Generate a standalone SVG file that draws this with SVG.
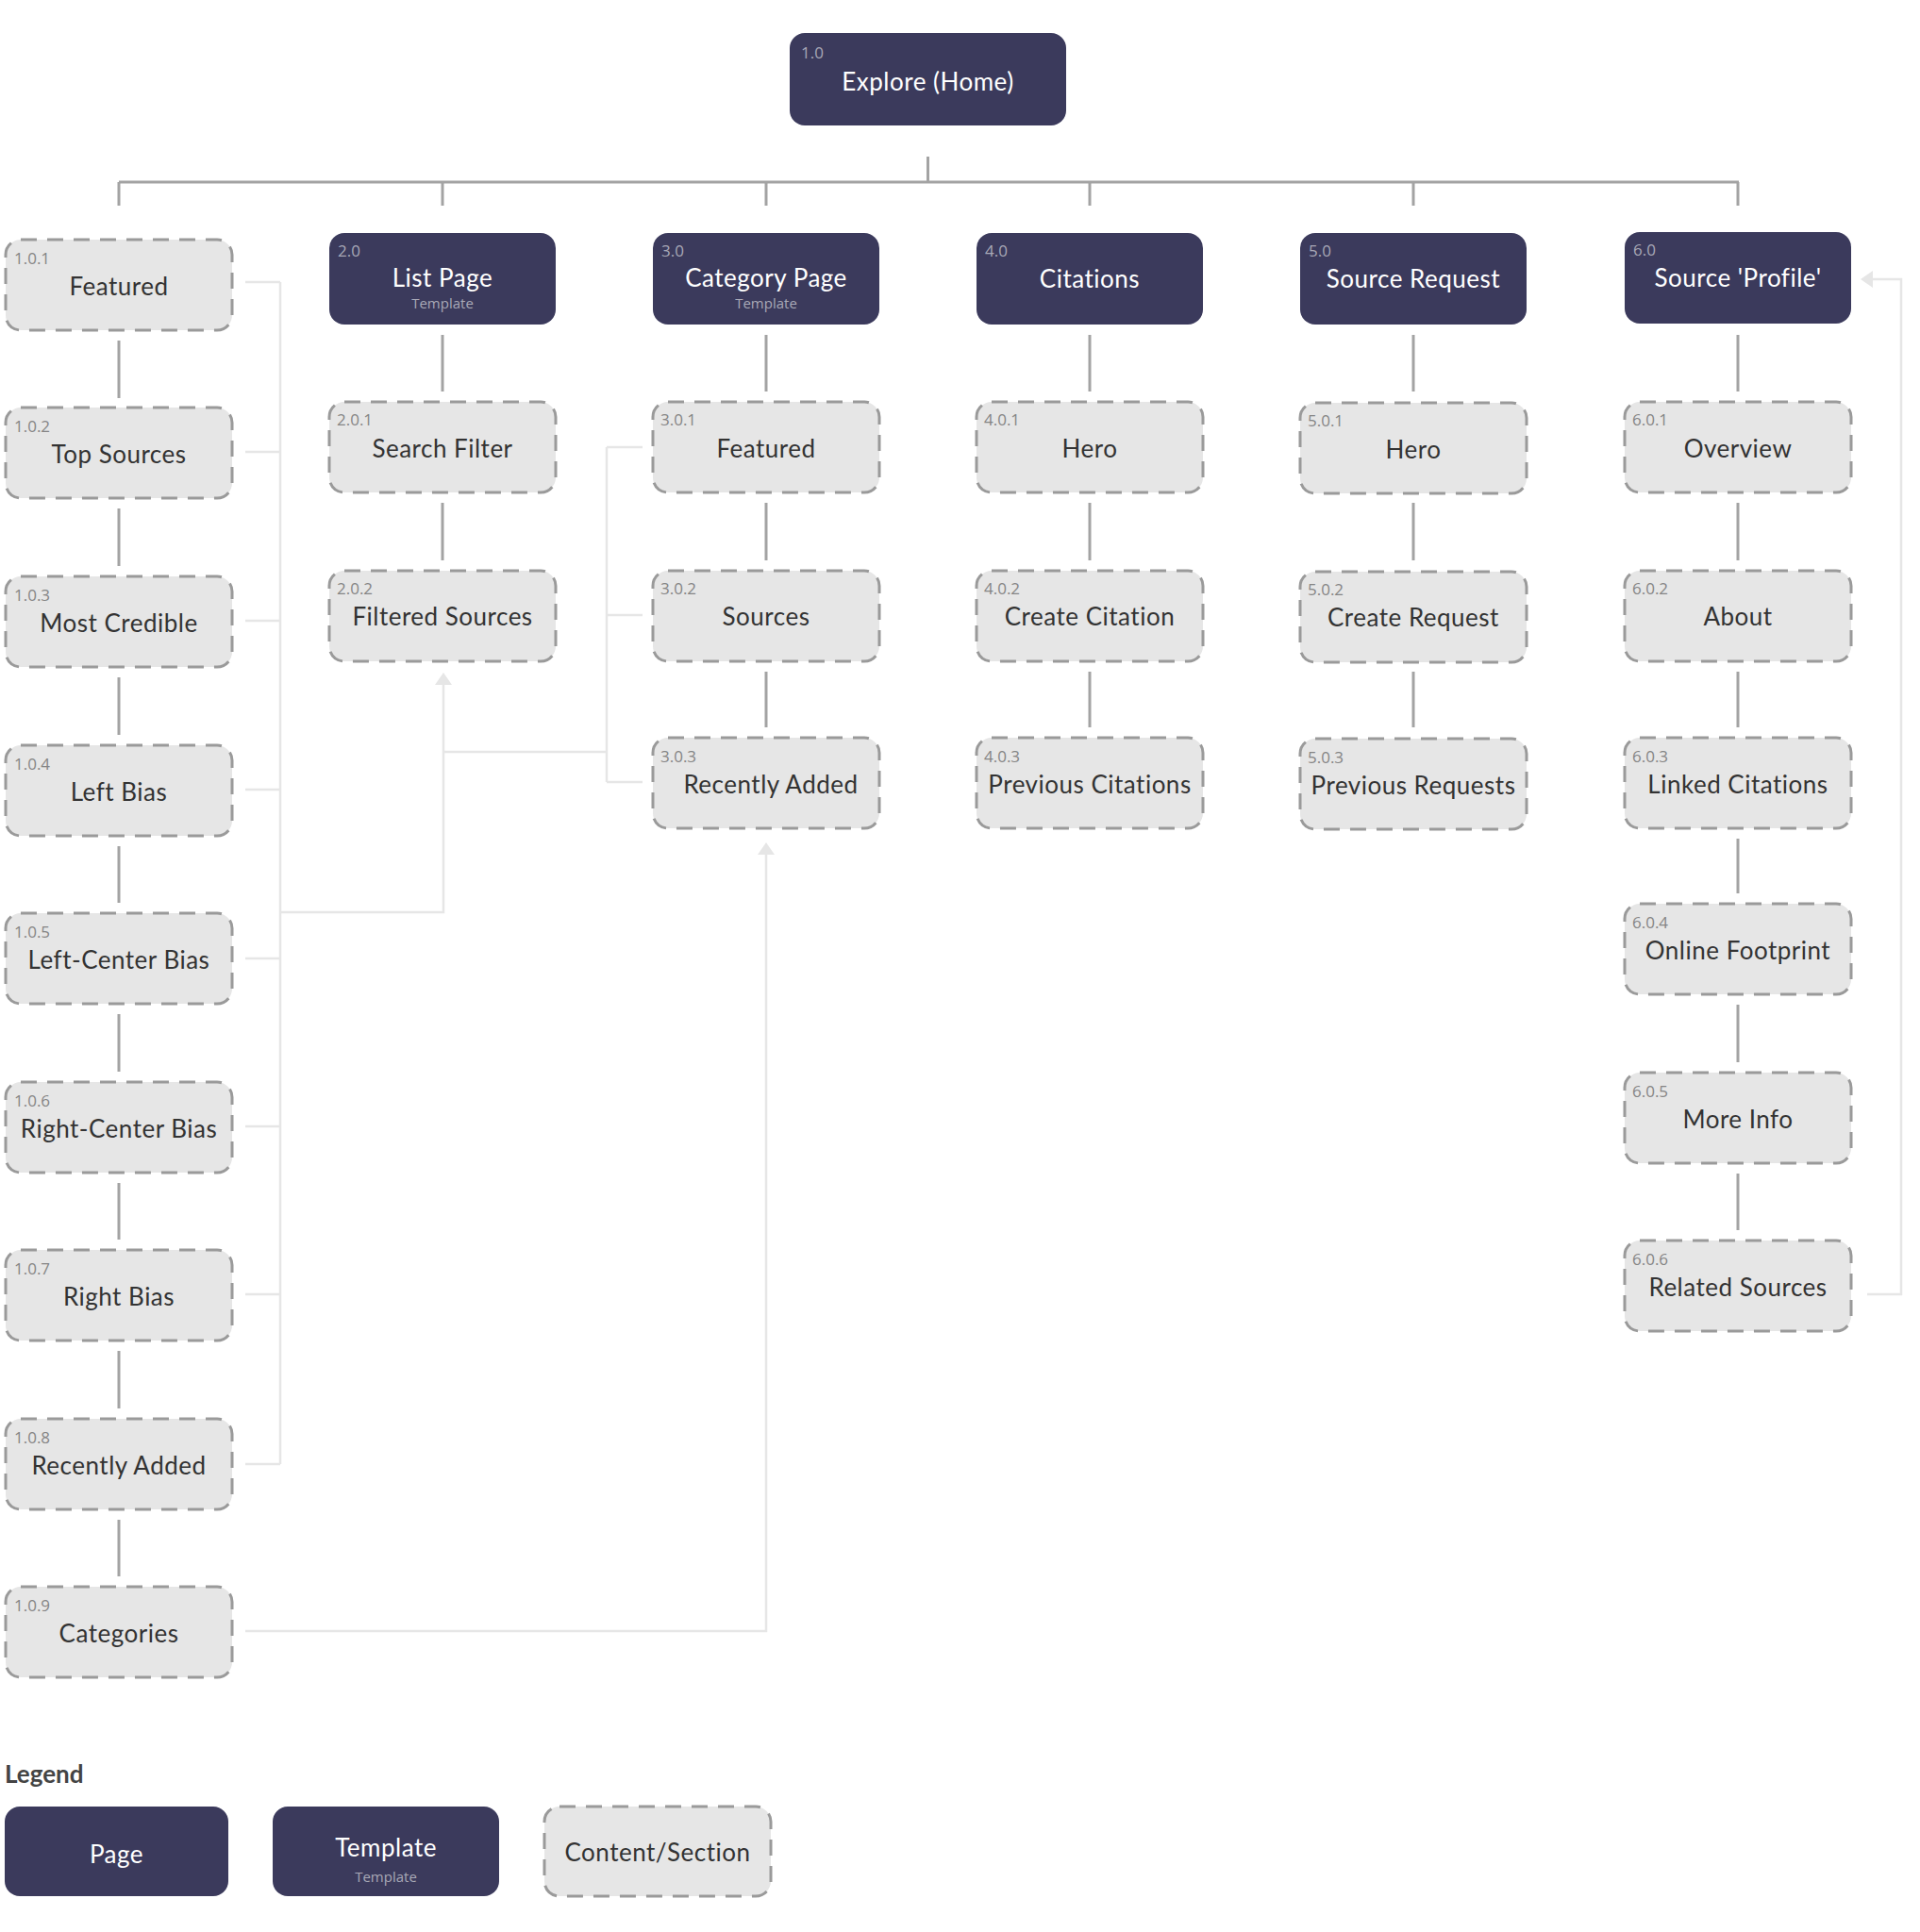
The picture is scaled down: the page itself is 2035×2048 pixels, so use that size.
<svg xmlns="http://www.w3.org/2000/svg" width="2035" height="2048" viewBox="0 0 2035 2048">
<style>
.pg{fill:#3b3a5c}
.ct{fill:#e6e6e6;stroke:#9a9a9a;stroke-width:3;stroke-dasharray:17 11}
.nd{fill:#a8a8b6;font-family:"Open Sans",sans-serif;font-size:17px}
.nl{fill:#858585;font-family:"Open Sans",sans-serif;font-size:17px}
.ld{fill:#ffffff;font-family:Lato,"Noto Sans",sans-serif;font-size:26px;letter-spacing:0.5px;text-anchor:middle}
.ll{fill:#333333;font-family:Lato,"Noto Sans",sans-serif;font-size:26px;letter-spacing:0.5px;text-anchor:middle}
.sb{fill:#a8a8b6;font-family:"Open Sans",sans-serif;font-size:15px;text-anchor:middle}
.cn{stroke:#a3a3a3;stroke-width:3;fill:none}
.lk{stroke:#e6e6e6;stroke-width:2.5;fill:none}
.ah{fill:#e6e6e6}
.lg{fill:#444;font-family:Lato,"Noto Sans",sans-serif;font-size:26px;font-weight:bold}
</style>
<rect width="2035" height="2048" fill="#ffffff"/>

<g id="connectors">
  <path class="cn" d="M983.5 166V193M126 193H1843M126 193V218M469 193V218M812 193V218M1155 193V218M1498 193V218M1842 193V218"/>
  <path class="cn" d="M126 361V422M126 539V600M126 718V779M126 897V957M126 1075V1136M126 1254V1314M126 1432V1493M126 1611V1671"/>
  <path class="cn" d="M469 355V415M469 533V594M812 355V415M812 533V594M812 712V771M1155 355V415M1155 533V594M1155 712V771M1498 355V415M1498 533V594M1498 712V771"/>
  <path class="cn" d="M1842 355V415M1842 533V594M1842 712V771M1842 889V947M1842 1065V1126M1842 1244V1304"/>
  <path class="lk" d="M260 299H297M260 479H297M260 658H297M260 837H297M260 1016H297M260 1194H297M260 1372H297M260 1552H297M297 299V1552M297 967H470V724"/>
  <polygon class="ah" points="470,713 461,726 479,726"/>
  <path class="lk" d="M681 474H643M681 652H643M681 829H643M643 474V829M643 797H470"/>
  <path class="lk" d="M260 1729H812V906"/>
  <polygon class="ah" points="812,893 803,906 821,906"/>
  <path class="lk" d="M1979 1372H2015V296H1984"/>
  <polygon class="ah" points="1972,296 1985,287 1985,305"/>
</g>

<g id="n-1-0">
  <rect class="pg" x="837" y="35" width="293" height="98" rx="16"/>
  <text class="nd" x="849" y="62">1.0</text>
  <text class="ld" x="983.5" y="96">Explore (Home)</text>
</g>

<g id="n-2-0">
  <rect class="pg" x="349" y="247" width="240" height="97" rx="16"/>
  <text class="nd" x="358" y="272">2.0</text>
  <text class="ld" x="469" y="304">List Page</text>
  <text class="sb" x="469" y="327">Template</text>
</g>
<g id="n-3-0">
  <rect class="pg" x="692" y="247" width="240" height="97" rx="16"/>
  <text class="nd" x="701" y="272">3.0</text>
  <text class="ld" x="812" y="304">Category Page</text>
  <text class="sb" x="812" y="327">Template</text>
</g>
<g id="n-4-0">
  <rect class="pg" x="1035" y="247" width="240" height="97" rx="16"/>
  <text class="nd" x="1044" y="272">4.0</text>
  <text class="ld" x="1155" y="305">Citations</text>
</g>
<g id="n-5-0">
  <rect class="pg" x="1378" y="247" width="240" height="97" rx="16"/>
  <text class="nd" x="1387" y="272">5.0</text>
  <text class="ld" x="1498" y="305">Source Request</text>
</g>
<g id="n-6-0">
  <rect class="pg" x="1722" y="246" width="240" height="97" rx="16"/>
  <text class="nd" x="1731" y="271">6.0</text>
  <text class="ld" x="1842" y="304">Source 'Profile'</text>
</g>

<g id="n-1-0-1"><rect class="ct" x="6" y="254" width="240" height="96" rx="16"/><text class="nl" x="15" y="280">1.0.1</text><text class="ll" x="126" y="313">Featured</text></g>
<g id="n-1-0-2"><rect class="ct" x="6" y="432" width="240" height="96" rx="16"/><text class="nl" x="15" y="458">1.0.2</text><text class="ll" x="126" y="491">Top Sources</text></g>
<g id="n-1-0-3"><rect class="ct" x="6" y="611" width="240" height="96" rx="16"/><text class="nl" x="15" y="637">1.0.3</text><text class="ll" x="126" y="670">Most Credible</text></g>
<g id="n-1-0-4"><rect class="ct" x="6" y="790" width="240" height="96" rx="16"/><text class="nl" x="15" y="816">1.0.4</text><text class="ll" x="126" y="849">Left Bias</text></g>
<g id="n-1-0-5"><rect class="ct" x="6" y="968" width="240" height="96" rx="16"/><text class="nl" x="15" y="994">1.0.5</text><text class="ll" x="126" y="1027">Left-Center Bias</text></g>
<g id="n-1-0-6"><rect class="ct" x="6" y="1147" width="240" height="96" rx="16"/><text class="nl" x="15" y="1173">1.0.6</text><text class="ll" x="126" y="1206">Right-Center Bias</text></g>
<g id="n-1-0-7"><rect class="ct" x="6" y="1325" width="240" height="96" rx="16"/><text class="nl" x="15" y="1351">1.0.7</text><text class="ll" x="126" y="1384">Right Bias</text></g>
<g id="n-1-0-8"><rect class="ct" x="6" y="1504" width="240" height="96" rx="16"/><text class="nl" x="15" y="1530">1.0.8</text><text class="ll" x="126" y="1563">Recently Added</text></g>
<g id="n-1-0-9"><rect class="ct" x="6" y="1682" width="240" height="96" rx="16"/><text class="nl" x="15" y="1708">1.0.9</text><text class="ll" x="126" y="1741">Categories</text></g>

<g id="n-2-0-1"><rect class="ct" x="349" y="426" width="240" height="96" rx="16"/><text class="nl" x="357" y="451">2.0.1</text><text class="ll" x="469" y="485">Search Filter</text></g>
<g id="n-2-0-2"><rect class="ct" x="349" y="605" width="240" height="96" rx="16"/><text class="nl" x="357" y="630">2.0.2</text><text class="ll" x="469" y="663">Filtered Sources</text></g>

<g id="n-3-0-1"><rect class="ct" x="692" y="426" width="240" height="96" rx="16"/><text class="nl" x="700" y="451">3.0.1</text><text class="ll" x="812" y="485">Featured</text></g>
<g id="n-3-0-2"><rect class="ct" x="692" y="605" width="240" height="96" rx="16"/><text class="nl" x="700" y="630">3.0.2</text><text class="ll" x="812" y="663">Sources</text></g>
<g id="n-3-0-3"><rect class="ct" x="692" y="782" width="240" height="96" rx="16"/><text class="nl" x="700" y="808">3.0.3</text><text class="ll" x="817" y="841">Recently Added</text></g>

<g id="n-4-0-1"><rect class="ct" x="1035" y="426" width="240" height="96" rx="16"/><text class="nl" x="1043" y="451">4.0.1</text><text class="ll" x="1155" y="485">Hero</text></g>
<g id="n-4-0-2"><rect class="ct" x="1035" y="605" width="240" height="96" rx="16"/><text class="nl" x="1043" y="630">4.0.2</text><text class="ll" x="1155" y="663">Create Citation</text></g>
<g id="n-4-0-3"><rect class="ct" x="1035" y="782" width="240" height="96" rx="16"/><text class="nl" x="1043" y="808">4.0.3</text><text class="ll" x="1155" y="841">Previous Citations</text></g>

<g id="n-5-0-1"><rect class="ct" x="1378" y="427" width="240" height="96" rx="16"/><text class="nl" x="1386" y="452">5.0.1</text><text class="ll" x="1498" y="486">Hero</text></g>
<g id="n-5-0-2"><rect class="ct" x="1378" y="606" width="240" height="96" rx="16"/><text class="nl" x="1386" y="631">5.0.2</text><text class="ll" x="1498" y="664">Create Request</text></g>
<g id="n-5-0-3"><rect class="ct" x="1378" y="783" width="240" height="96" rx="16"/><text class="nl" x="1386" y="809">5.0.3</text><text class="ll" x="1498" y="842">Previous Requests</text></g>

<g id="n-6-0-1"><rect class="ct" x="1722" y="426" width="240" height="96" rx="16"/><text class="nl" x="1730" y="451">6.0.1</text><text class="ll" x="1842" y="485">Overview</text></g>
<g id="n-6-0-2"><rect class="ct" x="1722" y="605" width="240" height="96" rx="16"/><text class="nl" x="1730" y="630">6.0.2</text><text class="ll" x="1842" y="663">About</text></g>
<g id="n-6-0-3"><rect class="ct" x="1722" y="782" width="240" height="96" rx="16"/><text class="nl" x="1730" y="808">6.0.3</text><text class="ll" x="1842" y="841">Linked Citations</text></g>
<g id="n-6-0-4"><rect class="ct" x="1722" y="958" width="240" height="96" rx="16"/><text class="nl" x="1730" y="984">6.0.4</text><text class="ll" x="1842" y="1017">Online Footprint</text></g>
<g id="n-6-0-5"><rect class="ct" x="1722" y="1137" width="240" height="96" rx="16"/><text class="nl" x="1730" y="1163">6.0.5</text><text class="ll" x="1842" y="1196">More Info</text></g>
<g id="n-6-0-6"><rect class="ct" x="1722" y="1315" width="240" height="96" rx="16"/><text class="nl" x="1730" y="1341">6.0.6</text><text class="ll" x="1842" y="1374">Related Sources</text></g>

<g id="legend">
  <text class="lg" x="5" y="1890">Legend</text>
  <g id="legend-page"><rect class="pg" x="5" y="1915" width="237" height="95" rx="16"/><text class="ld" x="123.5" y="1975">Page</text></g>
  <g id="legend-template"><rect class="pg" x="289" y="1915" width="240" height="95" rx="16"/><text class="ld" x="409" y="1968">Template</text><text class="sb" x="409" y="1995">Template</text></g>
  <g id="legend-content"><rect class="ct" x="577" y="1915" width="240" height="95" rx="16"/><text class="ll" x="697" y="1973">Content/Section</text></g>
</g>
</svg>
